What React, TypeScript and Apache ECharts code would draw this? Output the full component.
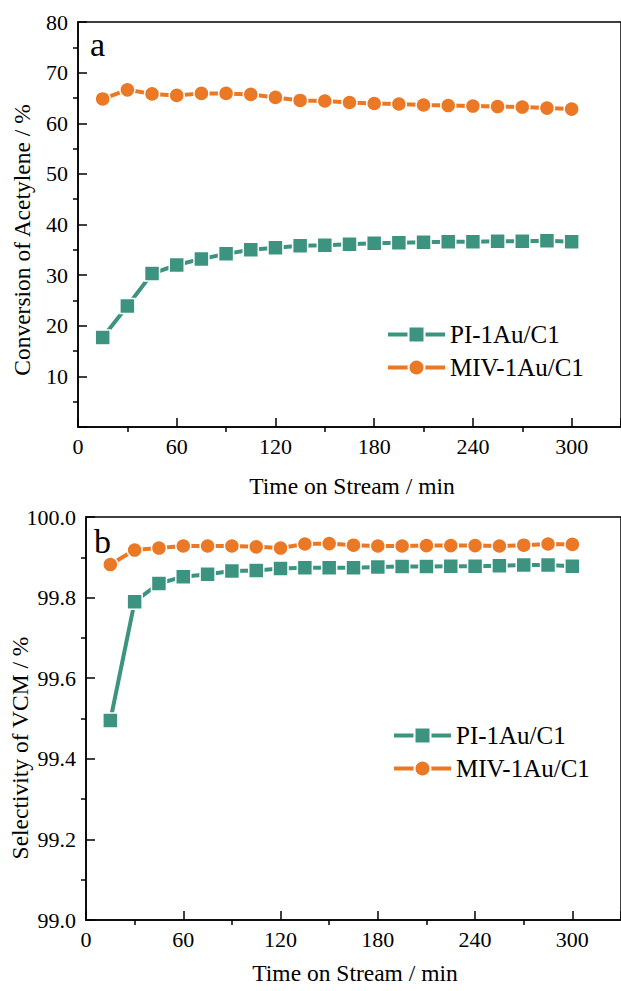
import React, { useEffect, useRef } from "react";
import * as echarts from "echarts";

const times = [15, 30, 45, 60, 75, 90, 105, 120, 135, 150, 165, 180, 195, 210, 225, 240, 255, 270, 285, 300];
const convPI = [17.7, 23.9, 30.3, 32.0, 33.2, 34.2, 35.0, 35.4, 35.8, 35.9, 36.1, 36.3, 36.4, 36.5, 36.6, 36.6, 36.7, 36.7, 36.8, 36.6];
const convMIV = [64.8, 66.6, 65.8, 65.5, 65.9, 65.9, 65.7, 65.1, 64.5, 64.4, 64.1, 63.9, 63.8, 63.6, 63.5, 63.4, 63.3, 63.2, 63.0, 62.8];
const selPI = [99.495, 99.790, 99.835, 99.852, 99.858, 99.866, 99.867, 99.872, 99.874, 99.874, 99.874, 99.876, 99.877, 99.877, 99.878, 99.878, 99.879, 99.881, 99.881, 99.878];
const selMIV = [99.882, 99.918, 99.923, 99.928, 99.928, 99.928, 99.926, 99.923, 99.933, 99.934, 99.930, 99.928, 99.928, 99.929, 99.929, 99.929, 99.928, 99.930, 99.933, 99.932];
const seriesNames = ["PI-1Au/C1", "MIV-1Au/C1"];
const xTitle = "Time on Stream / min";
const yTitleA = "Conversion of Acetylene / %";
const yTitleB = "Selectivity of VCM / %";

const GREEN = "#3c9480";
const ORANGE = "#ea7824";
const FONT = "'Liberation Serif', 'Times New Roman', serif";

export default function App() {
  const ref = useRef<HTMLDivElement>(null);
  useEffect(() => {
    if (!ref.current) return;
    const chart = echarts.init(ref.current, null, { renderer: "svg" });
    const axisLine = { show: true, lineStyle: { color: "#000", width: 1.5 } };
    const tick = { show: true, inside: true, length: 9, lineStyle: { color: "#000", width: 1.5 } };
    const minor = { show: true, splitNumber: 2, length: -5, lineStyle: { color: "#000", width: 1.5 } };
    const xAxisBase = (gridIndex: number) => ({
      type: "value",
      gridIndex,
      min: 0,
      max: 330,
      interval: 60,
      axisLine,
      axisTick: tick,
      minorTick: minor,
      splitLine: { show: false },
      minorSplitLine: { show: false },
      axisLabel: { color: "#000", fontSize: 22, fontFamily: FONT, margin: 8, showMaxLabel: false },
    });
    const pair = (ys: number[]) => times.map((t, i) => [t, ys[i]]);
    const mk = (name: string, color: string, symbol: string, data: number[][], idx: number) => ({
      type: "line",
      name,
      xAxisIndex: idx,
      yAxisIndex: idx,
      data,
      symbol,
      symbolSize: 15,
      lineStyle: { color, width: 4 },
      itemStyle: { color, borderColor: "#fff", borderWidth: 1.5 },
      z: color === ORANGE ? 3 : 2,
    });
    const legendBase = {
      orient: "vertical",
      itemWidth: 57,
      itemHeight: 20,
      itemGap: 8,
      padding: 0,
      selectedMode: false,
      data: seriesNames,
      lineStyle: { width: 4 },
      textStyle: { color: "#000", fontSize: 25, fontFamily: FONT },
    };
    chart.setOption({
      animation: false,
      backgroundColor: "#fff",
      textStyle: { fontFamily: FONT },
      grid: [
        { left: 78, top: 22, width: 557.7, height: 405, show: true, borderColor: "#000", borderWidth: 1.5, backgroundColor: "transparent" },
        { left: 86, top: 517, width: 551, height: 403, show: true, borderColor: "#000", borderWidth: 1.5, backgroundColor: "transparent" },
      ],
      xAxis: [xAxisBase(0), xAxisBase(1)],
      yAxis: [
        {
          type: "value",
          gridIndex: 0,
          min: 0,
          max: 80,
          interval: 10,
          axisLine,
          axisTick: tick,
          minorTick: minor,
          splitLine: { show: false },
          axisLabel: { color: "#000", fontSize: 22, fontFamily: FONT, margin: 10, showMinLabel: false },
        },
        {
          type: "value",
          gridIndex: 1,
          min: 99,
          max: 100,
          interval: 0.2,
          axisLine,
          axisTick: tick,
          minorTick: minor,
          splitLine: { show: false },
          axisLabel: { color: "#000", fontSize: 22, fontFamily: FONT, margin: 10, formatter: (v: number) => v.toFixed(1) },
        },
      ],
      legend: [
        { ...legendBase, left: 386, top: 322 },
        { ...legendBase, left: 392, top: 723 },
      ],
      series: [
        mk(seriesNames[0], GREEN, "rect", pair(convPI), 0),
        mk(seriesNames[1], ORANGE, "circle", pair(convMIV), 0),
        mk(seriesNames[0], GREEN, "rect", pair(selPI), 1),
        mk(seriesNames[1], ORANGE, "circle", pair(selMIV), 1),
      ],
      graphic: [
        { type: "text", x: 90, y: 44, style: { text: "a", fontSize: 34, fontFamily: FONT, fill: "#000", textVerticalAlign: "middle" } },
        { type: "text", x: 94, y: 541, style: { text: "b", fontSize: 34, fontFamily: FONT, fill: "#000", textVerticalAlign: "middle" } },
        { type: "text", x: 352, y: 486, style: { text: xTitle, fontSize: 23.5, fontFamily: FONT, fill: "#000", textAlign: "center", textVerticalAlign: "middle" } },
        { type: "text", x: 355, y: 973, style: { text: xTitle, fontSize: 23.5, fontFamily: FONT, fill: "#000", textAlign: "center", textVerticalAlign: "middle" } },
        { type: "text", x: 22, y: 240, rotation: Math.PI / 2, style: { text: yTitleA, fontSize: 23.5, fontFamily: FONT, fill: "#000", textAlign: "center", textVerticalAlign: "middle" } },
        { type: "text", x: 20, y: 748, rotation: Math.PI / 2, style: { text: yTitleB, fontSize: 23.5, fontFamily: FONT, fill: "#000", textAlign: "center", textVerticalAlign: "middle" } },
      ],
    });
    return () => chart.dispose();
  }, []);
  return <div ref={ref} style={{ position: "absolute", left: 0, top: 0, width: 621, height: 991 }} />;
}
